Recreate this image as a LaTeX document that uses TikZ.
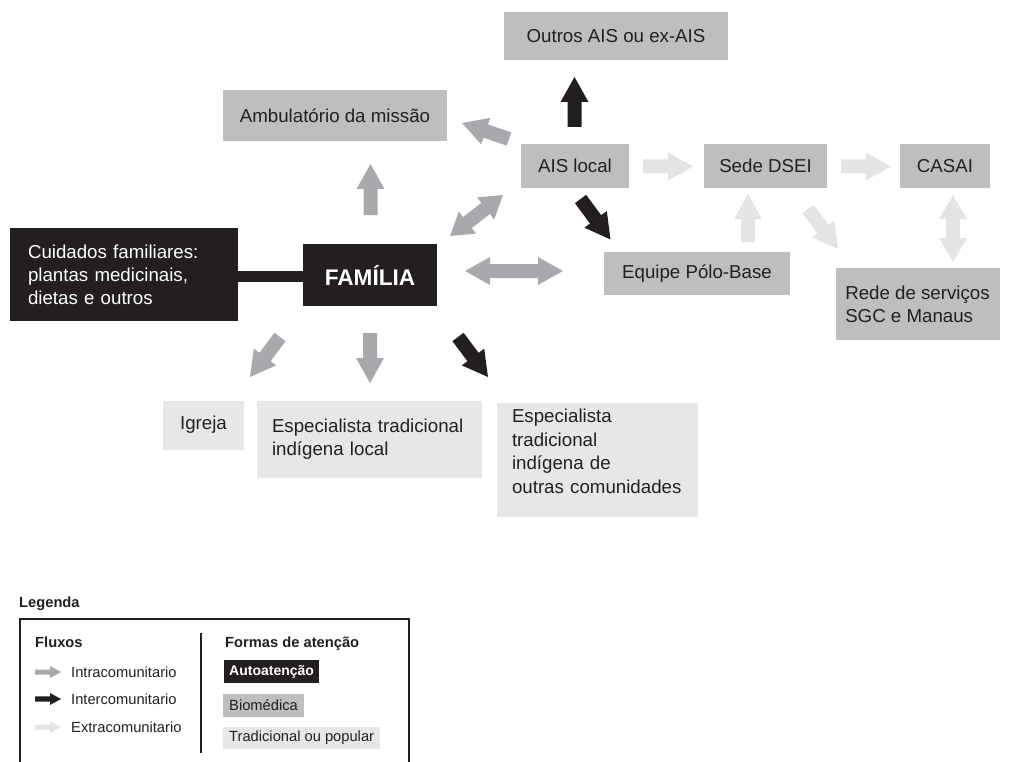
\documentclass[tikz,border=0pt]{standalone}
\usepackage{fontspec}
\setmainfont{Liberation Sans}
\usetikzlibrary{calc}
\definecolor{ink}{HTML}{231F20}
\definecolor{biomed}{HTML}{BCBEC0}
\definecolor{trad}{HTML}{E6E7E8}
\definecolor{arrgray}{HTML}{A7A9AC}
\definecolor{arrlight}{HTML}{E3E4E5}
\newcommand{\mainsz}{\fontsize{18.7}{23}\selectfont}
\newcommand{\legsz}{\fontsize{14.7}{17}\selectfont}
% single block arrow: style, start, end, half shaft, half head, head length
\newcommand{\blockarr}[6]{%
 \path let \p1=(#2), \p2=(#3) in \pgfextra{%
   \pgfmathsetmacro\baang{atan2(\y2-\y1,\x2-\x1)}%
   \pgfmathsetmacro\balen{veclen(\x2-\x1,\y2-\y1)}%
   \global\let\baangG\baang \global\let\balenG\balen};
 \fill[#1,shift={(#2)},rotate=\baangG] (0,#4) -- ({\balenG-#6},#4) -- ({\balenG-#6},#5) -- (\balenG,0) -- ({\balenG-#6},-#5) -- ({\balenG-#6},-#4) -- (0,-#4) -- cycle;
}
% double block arrow
\newcommand{\blockdbl}[6]{%
 \path let \p1=(#2), \p2=(#3) in \pgfextra{%
   \pgfmathsetmacro\baang{atan2(\y2-\y1,\x2-\x1)}%
   \pgfmathsetmacro\balen{veclen(\x2-\x1,\y2-\y1)}%
   \global\let\baangG\baang \global\let\balenG\balen};
 \fill[#1,shift={(#2)},rotate=\baangG] (0,0) -- (#6,#5) -- (#6,#4) -- ({\balenG-#6},#4) -- ({\balenG-#6},#5) -- (\balenG,0) -- ({\balenG-#6},-#5) -- ({\balenG-#6},-#4) -- (#6,-#4) -- (#6,-#5) -- cycle;
}
\tikzset{
  base/.style={rectangle, inner sep=0pt, text=ink, font=\mainsz},
  biobox/.style={base, fill=biomed},
  tradbox/.style={base, fill=trad},
  autobox/.style={base, fill=ink, text=white},
  intra/.style={fill=arrgray},
  inter/.style={fill=ink},
  extra/.style={fill=arrlight},
  legtext/.style={inner sep=0pt, text=ink, font=\legsz, anchor=base west},
  legbox/.style={rectangle, anchor=west, inner ysep=0pt, inner xsep=6pt, font=\legsz, text=ink},
}
\begin{document}
\begin{tikzpicture}[x=1pt,y=-1pt]
\useasboundingbox (0,0) rectangle (1011,762);

% ---- boxes
\node[biobox, minimum width=224, minimum height=48] (outros) at (616,36) {Outros AIS ou ex-AIS};
\node[biobox, minimum width=224, minimum height=51] (ambul) at (335,115.5) {Ambulatório da missão};
\node[biobox, minimum width=108, minimum height=44] (aislocal) at (575,166) {AIS local};
\node[biobox, minimum width=123, minimum height=44] (sede) at (765.5,166) {Sede DSEI};
\node[biobox, minimum width=90, minimum height=44] (casai) at (945,166) {CASAI};
\node[biobox, minimum width=186, minimum height=43] (equipe) at (697,273.5) {Equipe Pólo-Base};
\node[biobox, minimum width=164, minimum height=72, align=left] (rede) at (917.5,304) {Rede de serviços\\SGC e Manaus};

\node[autobox, minimum width=228, minimum height=93, text width=192, inner xsep=18, align=left] (cuidados) at (124,274.5) {Cuidados familiares:\\plantas medicinais,\\dietas e outros};
\node[autobox, minimum width=134, minimum height=62, font=\fontsize{22.6}{26}\selectfont\bfseries] (familia) at (370,275) {FAMÍLIA};
\draw[ink, line width=11] ([yshift=-1.5pt]cuidados.east) -- ([yshift=-1.5pt]cuidados.east -| familia.west);

\node[tradbox, minimum width=81, minimum height=49] (igreja) at (203.5,425) {Igreja};
\node[tradbox, minimum width=225, minimum height=77, text width=195, inner xsep=15, align=left] (esplocal) at (369.5,439.5) {Especialista tradicional\\indígena local};
\node[tradbox, minimum width=201, minimum height=114] (espoutras) at (597.5,460) {};
\node[base, anchor=north west, text width=180, align=left, font=\fontsize{18.7}{23.6}\selectfont] (espoutrastxt) at ([xshift=15pt,yshift=-6pt]espoutras.north west) {Especialista\\tradicional\\indígena de\\outras comunidades};

% ---- arrow end points
\coordinate (a1s) at (574.5,127); \coordinate (a1e) at (574.5,77);
\coordinate (a2s) at (509,139);   \coordinate (a2e) at (462,123);
\coordinate (a3s) at (450,236);   \coordinate (a3e) at (503,195);
\coordinate (a4s) at (580.5,199); \coordinate (a4e) at (610.5,239.5);
\coordinate (a5s) at (465,271);   \coordinate (a5e) at (563,271);
\coordinate (a6s) at (458,337);   \coordinate (a6e) at (488,377);
\coordinate (a7s) at (370,333);   \coordinate (a7e) at (370,383);
\coordinate (a8s) at (280,337);   \coordinate (a8e) at (250,377);
\coordinate (a9s) at (370.5,215); \coordinate (a9e) at (370.5,164);
\coordinate (a10s) at (643,166.5); \coordinate (a10e) at (693,166.5);
\coordinate (a11s) at (841,166.5); \coordinate (a11e) at (891,166.5);
\coordinate (a12s) at (748,242);   \coordinate (a12e) at (748,194);
\coordinate (a13s) at (808,209);   \coordinate (a13e) at (838,249);
\coordinate (a14s) at (953,195);   \coordinate (a14e) at (953,262);

\blockarr{inter}{a1s}{a1e}{7}{14}{25}
\blockarr{intra}{a2s}{a2e}{7}{14}{25}
\blockdbl{intra}{a3s}{a3e}{7}{14}{22}
\blockarr{inter}{a4s}{a4e}{7}{14}{25}
\blockdbl{intra}{a5s}{a5e}{7}{14}{25}
\blockarr{inter}{a6s}{a6e}{7}{14}{25}
\blockarr{intra}{a7s}{a7e}{7}{14}{25}
\blockarr{intra}{a8s}{a8e}{7}{14}{25}
\blockarr{intra}{a9s}{a9e}{7}{14}{25}
\blockarr{extra}{a10s}{a10e}{7}{14}{25}
\blockarr{extra}{a11s}{a11e}{7}{14}{25}
\blockarr{extra}{a12s}{a12e}{7}{14}{25}
\blockarr{extra}{a13s}{a13e}{7}{14}{25}
\blockdbl{extra}{a14s}{a14e}{7}{14}{24}

% ---- legend
\node[legtext, font=\legsz\bfseries] (legenda) at (19,607.5) {Legenda};
\coordinate (fr1) at (20,762); \coordinate (fr2) at (20,619);
\coordinate (fr3) at (409,619); \coordinate (fr4) at (409,762);
\draw[ink, line width=1.1] (fr1) -- (fr2) -- (fr3) -- (fr4);
\coordinate (dv1) at (201,633); \coordinate (dv2) at (201,753);
\draw[ink, line width=1.4] (dv1) -- (dv2);

\node[legtext, font=\legsz\bfseries] (fluxos) at (35,647) {Fluxos};
\node[legtext, font=\legsz\bfseries] (formas) at (225,647) {Formas de atenção};

\coordinate (l1s) at (35,672); \coordinate (l1e) at (61,672);
\coordinate (l2s) at (35,699); \coordinate (l2e) at (61,699);
\coordinate (l3s) at (35,727); \coordinate (l3e) at (61,727);
\blockarr{intra}{l1s}{l1e}{2.5}{6}{11}
\blockarr{inter}{l2s}{l2e}{2.7}{6}{11}
\blockarr{extra}{l3s}{l3e}{2.5}{6}{11}
\node[legtext] (intra) at (71,677) {Intracomunitario};
\node[legtext] (inter) at (71,704) {Intercomunitario};
\node[legtext] (extra) at (71,732) {Extracomunitario};

\node[legbox, fill=ink, text=white, minimum height=23, font=\fontsize{14}{16}\selectfont\bfseries, inner xsep=5pt] (lauto) at (224,671.5) {Autoatenção};
\node[legbox, fill=biomed, minimum height=23] (lbio) at (223,705.5) {Biomédica};
\node[legbox, fill=trad, minimum height=22] (ltrad) at (223,738) {Tradicional ou popular};
\end{tikzpicture}
\end{document}
